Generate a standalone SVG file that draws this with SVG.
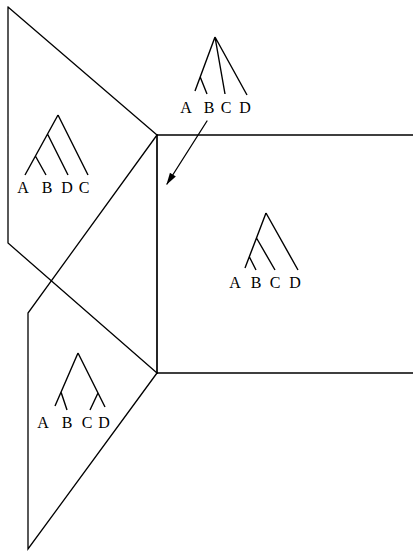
<svg xmlns="http://www.w3.org/2000/svg" width="413" height="551" viewBox="0 0 413 551">
<style>
.ln{fill:none;stroke:#000;stroke-width:1.3;stroke-linecap:round;stroke-linejoin:miter}
.tr{fill:none;stroke:#000;stroke-width:1.4;stroke-linecap:butt}
.lb{font-family:"Liberation Serif","DejaVu Serif",serif;font-size:16px;fill:#000;text-anchor:middle}
</style>
<defs>
<marker id="ah" viewBox="0 0 12 10" refX="11" refY="5" markerWidth="13" markerHeight="10" markerUnits="userSpaceOnUse" orient="auto">
<path d="M0,1.5 L12,5 L0,8.5 Z" fill="#000"/>
</marker>
</defs>
<g id="planes">
<g id="left-plane"><path class="ln" d="M8,7 L157,135 M8,7 L8,243 L157,373"/></g>
<g id="right-plane"><path class="ln" d="M157,135 L413,135 M157,373 L413,373"/><path class="ln" style="stroke-width:1.7" d="M157,135 L157,373"/></g>
<g id="bottom-plane"><path class="ln" d="M157,135 L28,313 L28,549 L157,373"/></g>
</g>
<g id="connectors">
<path class="ln" d="M207,121 L167,184" marker-end="url(#ah)"/>
</g>
<g id="tree-top">
<path class="tr" d="M215,37 L195,91 M200.2,77 L207,94 M215,37 L225,94 M215,37 L247,95"/>
<text class="lb" x="186" y="113">A</text><text class="lb" x="209" y="113">B</text><text class="lb" x="226" y="113">C</text><text class="lb" x="245" y="113">D</text>
</g>
<g id="tree-left">
<path class="tr" d="M58,115 L25,175 M58,115 L88,175 M47.5,134 L68,175 M35.4,156 L46,175"/>
<text class="lb" x="23" y="193">A</text><text class="lb" x="47" y="193">B</text><text class="lb" x="67" y="193">D</text><text class="lb" x="84" y="193">C</text>
</g>
<g id="tree-right">
<path class="tr" d="M266,213 L245,268 M266,213 L298,270 M256.5,238 L275,270 M249.3,256.7 L256,270"/>
<text class="lb" x="235" y="288">A</text><text class="lb" x="256" y="288">B</text><text class="lb" x="275" y="288">C</text><text class="lb" x="295" y="288">D</text>
</g>
<g id="tree-bottom">
<path class="tr" d="M78,353 L55,406 M78,353 L105,407 M61,392 L67,410 M98,393 L90,410"/>
<text class="lb" x="43" y="428">A</text><text class="lb" x="67" y="428">B</text><text class="lb" x="87" y="428">C</text><text class="lb" x="104" y="428">D</text>
</g>
</svg>
